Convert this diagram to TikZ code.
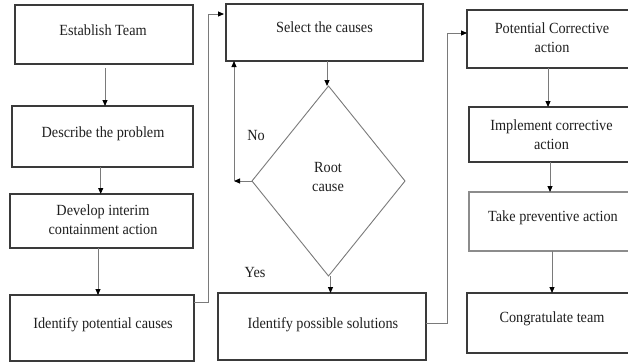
\documentclass[tikz,border=0pt]{standalone}
\usepackage{fontspec}
\setmainfont{Liberation Serif}[FakeStretch=0.92]
\usetikzlibrary{shapes.geometric,arrows.meta,calc}
\definecolor{boxc}{HTML}{3A3A3A}
\definecolor{lightbox}{HTML}{8C8C8C}
\definecolor{linec}{HTML}{7A7A7A}
\begin{document}
\begin{tikzpicture}[x=1pt,y=-1pt,
  box/.style={draw=boxc, line width=1.1pt, rectangle, inner sep=0pt, outer sep=0pt},
  txt/.style={font=\fontsize{15.5}{19}\selectfont, inner sep=0pt, align=center, text=black!88},
  conn/.style={draw=linec, line width=0.9pt},
  arr/.style={conn, -{Triangle[length=6pt,width=5pt,color=black]}}
]
\useasboundingbox (0,0) rectangle (628,362);
\fill[white] (0,0) rectangle (628,362);

% left column
\node[box, minimum width=178pt, minimum height=59pt] (est) at (104,34.5) {};
\node[box, minimum width=181pt, minimum height=61pt] (desc) at (102.5,136.5) {};
\node[box, minimum width=183pt, minimum height=54pt] (dev) at (101.5,221) {};
\node[box, minimum width=184pt, minimum height=66pt] (idp) at (102,328) {};

% middle column
\node[box, minimum width=197pt, minimum height=57pt] (sel) at (324.5,32.5) {};
\node[draw=linec, line width=0.9pt, diamond, minimum width=153pt, minimum height=190pt, inner sep=0pt, outer sep=0pt] (dia) at (328.5,181) {};
\node[box, minimum width=208pt, minimum height=67pt] (sol) at (322,326.5) {};

% right column
\node[box, minimum width=167pt, minimum height=58pt] (pot) at (550.5,39) {};
\node[box, minimum width=165pt, minimum height=55pt] (imp) at (551.5,134.5) {};
\node[box, draw=lightbox, minimum width=165pt, minimum height=59pt] (take) at (551.5,221.5) {};
\node[box, minimum width=167pt, minimum height=60pt] (cong) at (550.5,323) {};

% texts
\node[txt, anchor=base] (t1) at (103,35) {Establish Team};
\node[txt, anchor=base] (t2) at (103,137) {Describe the problem};
\node[txt, anchor=north] (t3) at (103,204.5) {Develop interim\\containment action};
\node[txt, anchor=base] (t4) at (103,328) {Identify potential causes};
\node[txt, anchor=base] (t5) at (324.5,32) {Select the causes};
\node[txt, anchor=north] (t6) at (328,162.5) {Root\\cause};
\node[txt, anchor=base] (t7) at (256,140) {No};
\node[txt, anchor=base] (t8) at (255,277) {Yes};
\node[txt, anchor=base] (t9) at (323,328) {Identify possible solutions};
\node[txt, anchor=north] (t10) at (552,22.5) {Potential Corrective\\action};
\node[txt, anchor=north] (t11) at (551.5,119.5) {Implement corrective\\action};
\node[txt, anchor=base] (t12) at (553,221) {Take preventive action};
\node[txt, anchor=base] (t13) at (552,322) {Congratulate team};

% connectors left column
\draw[arr, shorten <=4pt] ([xshift=1pt]est.south) -- ([xshift=1pt]est.south |- desc.north);
\draw[arr] ([xshift=-1.8pt]desc.south) -- ([xshift=-1.8pt]desc.south |- dev.north);
\draw[arr] ([xshift=-3.5pt]dev.south) -- ([xshift=-3.5pt]dev.south |- idp.north);
\draw[arr, shorten >=2pt] ([yshift=26pt]idp.east) -- ++(14,0) |- ([yshift=18.5pt]sel.west);

% middle
\draw[arr] ([xshift=2.5pt]sel.south) -- ([xshift=2.5pt]sel.south |- dia.north);
\coordinate (nob) at (234,181);
\draw[arr] (dia.west) -- (nob);
\draw[arr] (nob) -- (nob |- sel.south);
\draw[arr] ([xshift=2pt]dia.south) -- ([xshift=2pt]dia.south |- sol.north);
\draw[arr] ([yshift=3.5pt]sol.east) -- ++(21,0) |- ([yshift=6pt]pot.west);

% right column
\draw[arr] ([xshift=-2.5pt]pot.south) -- ([xshift=-2.5pt]pot.south |- imp.north);
\draw[arr] ([xshift=-1.5pt]imp.south) -- ([xshift=-1.5pt]imp.south |- take.north);
\draw[arr] ([xshift=0.5pt]take.south) -- ([xshift=0.5pt]take.south |- cong.north);
\end{tikzpicture}
\end{document}
